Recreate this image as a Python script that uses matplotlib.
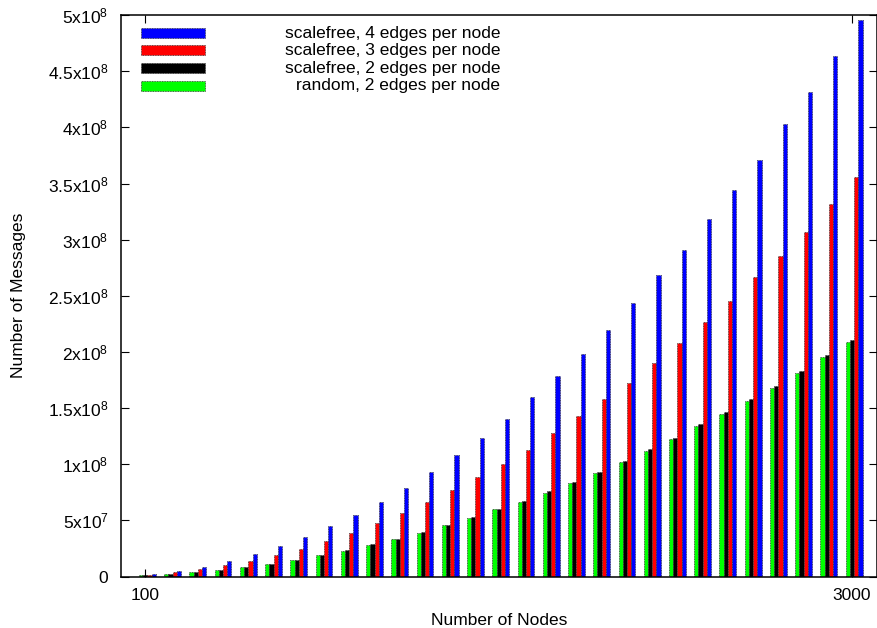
import numpy as np
import matplotlib
matplotlib.use('Agg')
import matplotlib.pyplot as plt
from matplotlib.patches import Rectangle

plt.rcParams['font.family'] = ['Liberation Sans', 'DejaVu Sans']
plt.rcParams['mathtext.fontset'] = 'custom'
plt.rcParams['mathtext.rm'] = 'Liberation Sans'
plt.rcParams['mathtext.it'] = 'Liberation Sans:italic'

# messages, in millions, one value per node count group
random_2 = [1.3, 2.2, 4.0, 5.8, 8.2, 11.1, 14.7, 19.1, 22.7, 28.0, 33.4, 38.7, 45.9, 52.1, 60.1,
            66.3, 74.4, 83.3, 92.2, 102.0, 111.8, 122.4, 134.0, 144.7, 156.3, 168.2, 181.5, 195.1, 208.4]
scalefree_2 = [1.2, 2.2, 4.0, 5.8, 8.2, 11.1, 14.7, 19.1, 23.6, 28.9, 33.4, 39.6, 45.9, 53.0, 60.1,
               67.2, 76.1, 84.2, 93.1, 102.9, 113.6, 123.3, 135.8, 146.5, 158.1, 170.1, 183.4, 197.7, 211.0]
scalefree_3 = [1.6, 4.0, 6.7, 10.2, 13.8, 19.1, 24.5, 31.6, 38.7, 47.6, 56.5, 66.3, 77.0, 88.6, 100.2,
               112.6, 127.8, 143.0, 158.1, 172.4, 190.2, 207.9, 226.6, 245.3, 266.7, 285.8, 307.1, 332.1, 355.4]
scalefree_4 = [2.2, 5.2, 8.5, 13.8, 20.0, 27.2, 35.2, 45.0, 54.8, 66.3, 78.8, 93.1, 108.2, 123.3, 140.2,
               159.8, 178.5, 198.1, 219.5, 243.5, 268.6, 290.8, 318.4, 344.2, 370.9, 402.7, 431.7, 463.9, 496.0]

series_names = ['scalefree, 4 edges per node', 'scalefree, 3 edges per node',
                'scalefree, 2 edges per node', 'random, 2 edges per node']
colors = ['#0000ff', '#ff0000', '#000000', '#00ff00']

xtick_labels = ['100', '3000']
ytick_vals = [0, 0.5e8, 1e8, 1.5e8, 2e8, 2.5e8, 3e8, 3.5e8, 4e8, 4.5e8, 5e8]
ytick_labels = ['0', r'5x10$^{7}$', r'1x10$^{8}$', r'1.5x10$^{8}$', r'2x10$^{8}$', r'2.5x10$^{8}$',
                r'3x10$^{8}$', r'3.5x10$^{8}$', r'4x10$^{8}$', r'4.5x10$^{8}$', r'5x10$^{8}$']

fig = plt.figure(figsize=(8.78, 6.28), dpi=100)
ax = fig.add_axes([0.1378, 0.082, 0.8605, 0.894])

n = len(random_2)
x = np.arange(n)
w = 1 / 6
bar_kw = dict(width=w, edgecolor='#333333', linewidth=0.6, linestyle=(0, (1, 1)), align='center')
ax.bar(x - w, np.array(random_2) * 1e6, color=colors[3], **bar_kw)
ax.bar(x, np.array(scalefree_2) * 1e6, color=colors[2], **bar_kw)
ax.bar(x + w, np.array(scalefree_3) * 1e6, color=colors[1], **bar_kw)
ax.bar(x + 2 * w, np.array(scalefree_4) * 1e6, color=colors[0], **bar_kw)

ax.set_xlim(-0.96, 28.97)
ax.set_ylim(0, 5e8)
ax.set_xticks([0, n - 1])
ax.set_xticklabels(xtick_labels)
ax.set_yticks(ytick_vals)
ax.set_yticklabels(ytick_labels)
ax.tick_params(direction='in', top=True, right=True, length=6, width=0.8,
               labelsize=12.5, pad=9)
ax.tick_params(axis='x', pad=8)
for s in ax.spines.values():
    s.set_linewidth(1.1)
ax.set_axisbelow(False)

ax.set_ylabel('Number of Messages', fontsize=12.5)
ax.set_xlabel('Number of Nodes', fontsize=12.5)
ax.yaxis.set_label_coords(-0.136, 0.5)
ax.xaxis.set_label_coords(0.5, -0.078)
ax.yaxis.label.set_va('center')
ax.xaxis.label.set_va('center')

# key: sample box on the left, text right-justified
rows_y = [0.968, 0.937, 0.905, 0.874]
for name, c, yy in zip(series_names, colors, rows_y):
    ax.add_patch(Rectangle((0.0265, yy - 0.009), 0.0847, 0.018, transform=ax.transAxes,
                           facecolor=c, edgecolor='#333333', linewidth=0.6,
                           linestyle=(0, (1, 1)), clip_on=False))
    ax.text(0.5017, yy, name, transform=ax.transAxes, ha='right', va='center', fontsize=12.5)

fig.savefig('out.png', dpi=100)
